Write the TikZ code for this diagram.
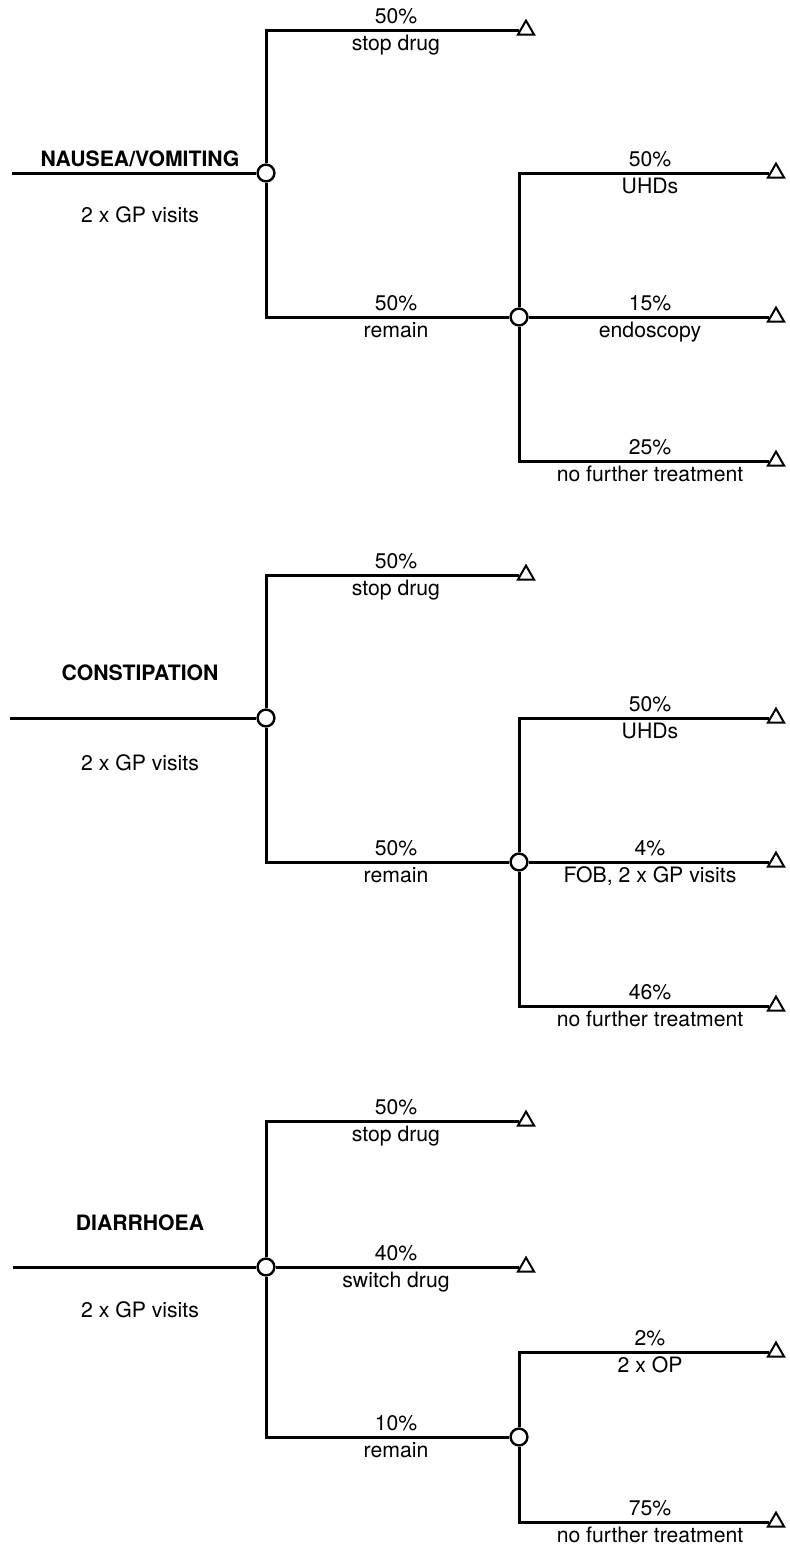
\documentclass[tikz,border=0pt]{standalone}
\usepackage{fontspec}
\setmainfont{TeX Gyre Heros}
\usetikzlibrary{shapes.geometric}
\tikzset{
  branch/.style={line width=1.5pt},
  chance/.style={circle, draw, fill=white, line width=1.2pt, minimum size=8.4pt, inner sep=0pt},
  terminal/.style={regular polygon, regular polygon sides=3, draw, line width=1pt, minimum size=9.4pt, inner sep=0pt},
  prob/.style={anchor=base, font=\fontsize{10.6}{12}\selectfont},
  event/.style={anchor=base, font=\fontsize{10.6}{12}\selectfont},
  disease/.style={anchor=base, font=\fontsize{10.6}{12}\selectfont\bfseries},
}

\begin{document}
\begin{tikzpicture}[x=0.5pt, y=-0.5pt]
    \useasboundingbox (0,0) rectangle (789,1548);

    % Nausea/vomiting
    \coordinate (nvin) at (12,173);
    \node[chance] (nv) at (266,173) {};
    \node[terminal] (nvstop) at (526,30) {};
    \node[chance] (nvrem) at (519,317) {};
    \node[terminal] (nvuhd) at (776,173) {};
    \node[terminal] (nvendo) at (776,317) {};
    \node[terminal] (nvnone) at (776,461) {};
    \draw[branch] (nvin) -- (nv);
    \draw[branch] (nv) |- (nvstop);
    \draw[branch] (nv) |- (nvrem);
    \draw[branch] (nvrem) |- (nvuhd);
    \draw[branch] (nvrem) -- (nvendo);
    \draw[branch] (nvrem) |- (nvnone);
    \node[disease] at (140,166) {NAUSEA/VOMITING};
    \node[event] at (140,222) {2 x GP visits};
    \node[prob] at (396,23.5) {50\%};
    \node[event] at (396,50) {stop drug};
    \node[prob] at (396,310.5) {50\%};
    \node[event] at (396,337) {remain};
    \node[prob] at (650,166.5) {50\%};
    \node[event] at (650,193) {UHDs};
    \node[prob] at (650,310.5) {15\%};
    \node[event] at (650,337) {endoscopy};
    \node[prob] at (650,454.5) {25\%};
    \node[event] at (650,481) {no further treatment};

    % Constipation
    \coordinate (cpin) at (10,718);
    \node[chance] (cp) at (266,718) {};
    \node[terminal] (cpstop) at (526,575) {};
    \node[chance] (cprem) at (519,862) {};
    \node[terminal] (cpuhd) at (776,718) {};
    \node[terminal] (cpfob) at (776,862) {};
    \node[terminal] (cpnone) at (776,1006) {};
    \draw[branch] (cpin) -- (cp);
    \draw[branch] (cp) |- (cpstop);
    \draw[branch] (cp) |- (cprem);
    \draw[branch] (cprem) |- (cpuhd);
    \draw[branch] (cprem) -- (cpfob);
    \draw[branch] (cprem) |- (cpnone);
    \node[disease] at (140,680) {CONSTIPATION};
    \node[event] at (140,770) {2 x GP visits};
    \node[prob] at (396,568.5) {50\%};
    \node[event] at (396,595) {stop drug};
    \node[prob] at (396,855.5) {50\%};
    \node[event] at (396,882) {remain};
    \node[prob] at (650,711.5) {50\%};
    \node[event] at (650,738) {UHDs};
    \node[prob] at (650,855.5) {4\%};
    \node[event] at (650,882) {FOB, 2 x GP visits};
    \node[prob] at (650,999.5) {46\%};
    \node[event] at (650,1026) {no further treatment};

    % Diarrhoea
    \coordinate (drin) at (13,1267);
    \node[chance] (dr) at (266,1267) {};
    \node[terminal] (drstop) at (526,1121) {};
    \node[terminal] (drswitch) at (526,1267) {};
    \node[chance] (drrem) at (519,1437) {};
    \node[terminal] (drop) at (776,1352) {};
    \node[terminal] (drnone) at (776,1522) {};
    \draw[branch] (drin) -- (dr);
    \draw[branch] (dr) |- (drstop);
    \draw[branch] (dr) -- (drswitch);
    \draw[branch] (dr) |- (drrem);
    \draw[branch] (drrem) |- (drop);
    \draw[branch] (drrem) |- (drnone);
    \node[disease] at (140,1230) {DIARRHOEA};
    \node[event] at (140,1317) {2 x GP visits};
    \node[prob] at (396,1114.5) {50\%};
    \node[event] at (396,1141) {stop drug};
    \node[prob] at (396,1260.5) {40\%};
    \node[event] at (396,1287) {switch drug};
    \node[prob] at (396,1430.5) {10\%};
    \node[event] at (396,1457) {remain};
    \node[prob] at (650,1345.5) {2\%};
    \node[event] at (650,1372) {2 x OP};
    \node[prob] at (650,1515.5) {75\%};
    \node[event] at (650,1542) {no further treatment};
\end{tikzpicture}
\end{document}
